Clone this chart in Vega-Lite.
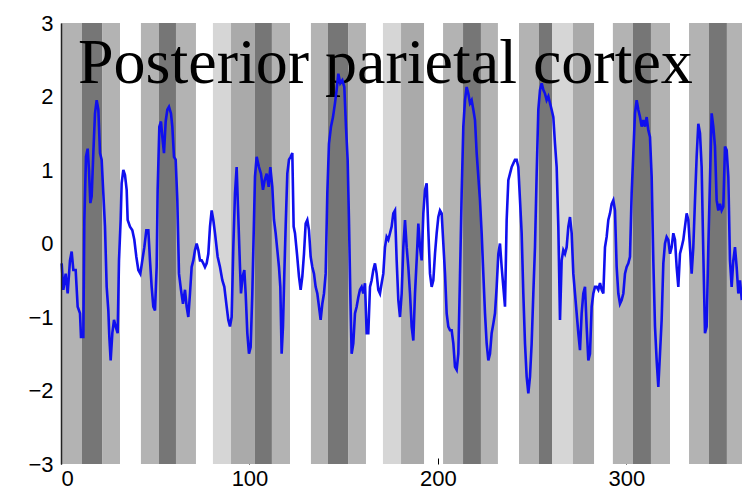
{
  "$schema": "https://vega.github.io/schema/vega-lite/v6.json",
  "autosize": {"type": "none"},
  "padding": {"left": 61, "top": 23, "right": 0, "bottom": 35},
  "width": 681,
  "height": 441,
  "background": "white",
  "config": {
    "view": {"stroke": null},
    "axis": {"labelFont": "Liberation Sans", "labelFontSize": 22, "labelColor": "#000", "grid": false, "title": null}
  },
  "datasets": {
    "bands": [
      {"start": 0, "end": 11.1, "shade": "b"}, {"start": 11.1, "end": 21.8, "shade": "d"}, {"start": 21.8, "end": 31.3, "shade": "b"},
      {"start": 42.4, "end": 52.0, "shade": "b"}, {"start": 52.0, "end": 61.0, "shade": "d"}, {"start": 61.0, "end": 71.6, "shade": "b"},
      {"start": 80.6, "end": 90.2, "shade": "a"}, {"start": 90.2, "end": 102.9, "shade": "c"}, {"start": 102.9, "end": 111.9, "shade": "d"}, {"start": 111.9, "end": 121.5, "shade": "b"},
      {"start": 132.6, "end": 141.6, "shade": "b"}, {"start": 141.6, "end": 152.3, "shade": "d"}, {"start": 152.3, "end": 161.8, "shade": "b"},
      {"start": 170.8, "end": 180.4, "shade": "a"}, {"start": 180.4, "end": 192.6, "shade": "c"},
      {"start": 202.7, "end": 213.3, "shade": "b"}, {"start": 213.3, "end": 222.8, "shade": "d"}, {"start": 222.8, "end": 231.8, "shade": "b"},
      {"start": 243.0, "end": 253.6, "shade": "b"}, {"start": 253.6, "end": 260.5, "shade": "d"}, {"start": 260.5, "end": 271.6, "shade": "a"}, {"start": 271.6, "end": 282.8, "shade": "c"},
      {"start": 292.8, "end": 303.4, "shade": "b"}, {"start": 303.4, "end": 313.0, "shade": "d"}, {"start": 313.0, "end": 323.1, "shade": "b"},
      {"start": 333.2, "end": 343.8, "shade": "b"}, {"start": 343.8, "end": 353.3, "shade": "d"}, {"start": 353.3, "end": 361.3, "shade": "b"}
    ],
    "label": [{"x": 9.0, "y": 2.18, "text": "Posterior parietal cortex"}],
    "signal": [
      {"x":0.35,"y":-0.27},{"x":1.24,"y":-0.63},{"x":2.48,"y":-0.41},{"x":3.54,"y":-0.68},{"x":4.77,"y":-0.23},{"x":5.66,"y":-0.11},{"x":6.54,"y":-0.36},{"x":7.78,"y":-0.36},{"x":8.84,"y":-0.86},{"x":10.08,"y":-0.95},{"x":10.61,"y":-1.27},{"x":11.85,"y":-1.27},{"x":12.38,"y":0.32},{"x":13.26,"y":1.18},{"x":14.15,"y":1.29},{"x":14.85,"y":1.0},{"x":15.56,"y":0.55},{"x":16.27,"y":0.64},{"x":17.15,"y":1.23},{"x":18.04,"y":1.77},{"x":18.92,"y":1.95},{"x":19.81,"y":1.82},{"x":20.69,"y":1.23},{"x":21.57,"y":1.14},{"x":22.46,"y":0.68},{"x":23.34,"y":0.23},{"x":24.23,"y":-0.59},{"x":25.11,"y":-0.91},{"x":25.64,"y":-1.27},{"x":26.35,"y":-1.59},{"x":27.23,"y":-1.22},{"x":28.12,"y":-1.04},{"x":29.0,"y":-1.13},{"x":30.06,"y":-1.22},{"x":30.77,"y":-0.23},{"x":31.65,"y":0.32},{"x":32.18,"y":0.82},{"x":33.07,"y":1.0},{"x":33.95,"y":0.93},{"x":34.84,"y":0.73},{"x":35.37,"y":0.32},{"x":36.6,"y":0.23},{"x":37.84,"y":0.18},{"x":38.9,"y":0.05},{"x":39.96,"y":-0.18},{"x":41.03,"y":-0.36},{"x":42.09,"y":-0.41},{"x":43.15,"y":-0.23},{"x":44.21,"y":-0.05},{"x":45.27,"y":0.18},{"x":46.33,"y":0.18},{"x":47.21,"y":-0.23},{"x":48.1,"y":-0.59},{"x":48.98,"y":-0.86},{"x":49.87,"y":-0.91},{"x":50.75,"y":-0.32},{"x":51.28,"y":0.73},{"x":52.17,"y":1.59},{"x":53.05,"y":1.66},{"x":53.76,"y":1.45},{"x":54.64,"y":1.23},{"x":55.53,"y":1.66},{"x":56.41,"y":1.82},{"x":57.29,"y":1.86},{"x":58.35,"y":1.77},{"x":59.06,"y":1.59},{"x":59.95,"y":1.18},{"x":60.83,"y":1.14},{"x":61.71,"y":0.59},{"x":62.6,"y":-0.41},{"x":63.66,"y":-0.63},{"x":64.72,"y":-0.82},{"x":65.78,"y":-0.63},{"x":66.67,"y":-0.86},{"x":67.55,"y":-1.0},{"x":68.43,"y":-0.68},{"x":69.32,"y":-0.32},{"x":70.2,"y":-0.23},{"x":71.09,"y":-0.09},{"x":71.97,"y":0.0},{"x":72.86,"y":-0.09},{"x":73.74,"y":-0.23},{"x":74.62,"y":-0.23},{"x":75.51,"y":-0.27},{"x":76.39,"y":-0.32},{"x":77.28,"y":-0.27},{"x":78.16,"y":-0.14},{"x":79.05,"y":0.23},{"x":79.93,"y":0.45},{"x":80.81,"y":0.32},{"x":81.7,"y":0.14},{"x":83.11,"y":-0.18},{"x":84.35,"y":-0.32},{"x":85.59,"y":-0.5},{"x":86.65,"y":-0.59},{"x":87.89,"y":-0.86},{"x":88.77,"y":-1.04},{"x":89.65,"y":-1.13},{"x":90.54,"y":-1.0},{"x":91.42,"y":-0.05},{"x":92.31,"y":0.68},{"x":93.19,"y":1.04},{"x":94.07,"y":0.36},{"x":94.96,"y":-0.32},{"x":95.49,"y":-0.68},{"x":96.37,"y":-0.45},{"x":97.26,"y":-0.36},{"x":97.97,"y":-0.68},{"x":98.85,"y":-1.22},{"x":99.73,"y":-1.5},{"x":100.62,"y":-1.41},{"x":101.5,"y":-0.68},{"x":102.39,"y":0.32},{"x":102.92,"y":0.91},{"x":103.8,"y":1.18},{"x":105.04,"y":1.04},{"x":106.1,"y":0.95},{"x":107.16,"y":0.73},{"x":108.05,"y":0.86},{"x":109.11,"y":0.95},{"x":110.17,"y":0.77},{"x":111.05,"y":1.04},{"x":112.11,"y":0.77},{"x":113.0,"y":0.32},{"x":113.88,"y":0.14},{"x":114.77,"y":-0.09},{"x":115.65,"y":-0.32},{"x":116.36,"y":-0.59},{"x":117.06,"y":-1.5},{"x":117.77,"y":-1.13},{"x":118.48,"y":-0.41},{"x":119.19,"y":0.23},{"x":120.07,"y":0.95},{"x":120.96,"y":1.14},{"x":121.84,"y":1.18},{"x":122.72,"y":1.23},{"x":123.43,"y":0.23},{"x":124.14,"y":0.14},{"x":125.2,"y":-0.14},{"x":126.26,"y":-0.45},{"x":127.15,"y":-0.63},{"x":128.03,"y":-0.45},{"x":128.91,"y":-0.14},{"x":129.8,"y":0.27},{"x":130.68,"y":0.32},{"x":131.57,"y":0.18},{"x":132.45,"y":-0.18},{"x":133.33,"y":-0.32},{"x":134.22,"y":-0.41},{"x":135.1,"y":-0.59},{"x":135.99,"y":-0.68},{"x":136.87,"y":-0.86},{"x":137.75,"y":-1.04},{"x":138.64,"y":-0.82},{"x":139.52,"y":-0.68},{"x":140.41,"y":-0.41},{"x":141.29,"y":0.68},{"x":142.17,"y":1.36},{"x":143.24,"y":1.59},{"x":144.3,"y":1.72},{"x":145.36,"y":1.91},{"x":146.24,"y":2.09},{"x":147.13,"y":2.31},{"x":148.19,"y":2.18},{"x":149.25,"y":2.22},{"x":150.31,"y":2.13},{"x":151.19,"y":1.59},{"x":152.08,"y":1.14},{"x":152.78,"y":0.32},{"x":153.49,"y":-0.68},{"x":154.2,"y":-1.5},{"x":155.08,"y":-1.36},{"x":155.97,"y":-0.95},{"x":156.85,"y":-0.86},{"x":157.74,"y":-0.73},{"x":158.62,"y":-0.63},{"x":159.5,"y":-0.59},{"x":160.39,"y":-0.68},{"x":161.27,"y":-0.54},{"x":162.16,"y":-1.22},{"x":163.04,"y":-1.22},{"x":163.93,"y":-0.59},{"x":164.81,"y":-0.5},{"x":165.69,"y":-0.36},{"x":166.58,"y":-0.27},{"x":167.46,"y":-0.41},{"x":168.35,"y":-0.63},{"x":169.23,"y":-0.68},{"x":170.11,"y":-0.54},{"x":171.0,"y":-0.41},{"x":171.88,"y":-0.05},{"x":172.77,"y":0.09},{"x":173.65,"y":0.05},{"x":174.54,"y":0.14},{"x":175.42,"y":0.23},{"x":176.3,"y":0.41},
      {"x":177.2,"y":0.45},{"x":178.08,"y":-0.23},{"x":178.97,"y":-0.77},{"x":179.85,"y":-1.0},{"x":180.74,"y":-0.68},{"x":181.62,"y":-0.05},{"x":182.51,"y":0.32},{"x":183.39,"y":-0.05},{"x":184.27,"y":-0.32},{"x":185.16,"y":-0.68},{"x":186.04,"y":-1.13},{"x":186.93,"y":-1.32},{"x":187.81,"y":-0.68},{"x":188.69,"y":-0.23},{"x":189.58,"y":0.27},{"x":190.46,"y":-0.05},{"x":191.35,"y":-0.23},{"x":192.23,"y":0.41},{"x":193.12,"y":0.73},{"x":194.0,"y":0.82},{"x":194.88,"y":0.18},{"x":195.77,"y":-0.41},{"x":196.65,"y":-0.59},{"x":197.54,"y":-0.5},{"x":198.42,"y":-0.14},{"x":199.31,"y":0.14},{"x":200.19,"y":0.36},{"x":201.07,"y":0.45},{"x":201.96,"y":0.41},{"x":202.84,"y":0.0},{"x":203.73,"y":-0.41},{"x":204.61,"y":-0.95},{"x":205.49,"y":-1.13},{"x":206.38,"y":-1.18},{"x":207.26,"y":-1.18},{"x":208.15,"y":-1.36},{"x":209.03,"y":-1.68},{"x":209.92,"y":-1.72},{"x":210.8,"y":-1.5},{"x":211.68,"y":-0.45},{"x":212.57,"y":0.68},{"x":213.45,"y":1.59},{"x":214.34,"y":1.95},{"x":215.22,"y":2.13},{"x":216.1,"y":2.04},{"x":216.99,"y":1.91},{"x":217.87,"y":1.95},{"x":218.76,"y":1.82},{"x":219.64,"y":1.68},{"x":220.53,"y":1.23},{"x":221.41,"y":0.91},{"x":222.29,"y":0.59},{"x":223.18,"y":0.14},{"x":224.06,"y":-0.41},{"x":224.95,"y":-0.95},{"x":225.83,"y":-1.36},{"x":226.72,"y":-1.59},{"x":227.6,"y":-1.5},{"x":228.48,"y":-1.22},{"x":229.37,"y":-1.09},{"x":230.25,"y":-0.95},{"x":231.14,"y":-0.59},{"x":232.02,"y":-0.14},{"x":232.9,"y":0.0},{"x":233.79,"y":-0.32},{"x":234.67,"y":-0.59},{"x":235.56,"y":-0.86},{"x":236.44,"y":0.32},{"x":237.33,"y":0.86},{"x":238.21,"y":0.95},{"x":239.09,"y":1.04},{"x":239.98,"y":1.09},{"x":240.86,"y":1.14},{"x":241.75,"y":1.14},{"x":242.63,"y":1.04},{"x":243.52,"y":0.59},{"x":244.4,"y":0.14},{"x":245.28,"y":-0.68},{"x":246.17,"y":-1.36},{"x":247.05,"y":-1.81},{"x":247.94,"y":-2.04},{"x":248.82,"y":-1.81},{"x":249.7,"y":-1.36},{"x":250.59,"y":-0.68},{"x":251.47,"y":-0.05},{"x":252.36,"y":0.95},{"x":253.24,"y":1.82},{"x":254.13,"y":2.09},{"x":255.01,"y":2.18},{"x":255.89,"y":2.09},{"x":256.78,"y":2.04},{"x":257.66,"y":1.95},{"x":258.55,"y":2.0},{"x":259.43,"y":1.91},{"x":260.31,"y":1.82},{"x":261.2,"y":1.72},{"x":262.08,"y":1.36},{"x":262.97,"y":1.04},{"x":263.85,"y":0.23},{"x":264.74,"y":-1.04},{"x":265.62,"y":-0.23},{"x":266.5,"y":-0.09},{"x":267.39,"y":-0.14},{"x":268.27,"y":-0.05},{"x":269.16,"y":0.23},{"x":270.04,"y":0.36},{"x":270.93,"y":0.14},{"x":271.81,"y":-0.41},{"x":272.69,"y":-0.68},{"x":273.58,"y":-0.95},{"x":274.46,"y":-1.22},{"x":275.35,"y":-1.45},{"x":276.23,"y":-0.95},{"x":277.11,"y":-0.68},{"x":278.0,"y":-0.59},{"x":278.88,"y":-1.13},{"x":279.77,"y":-1.59},{"x":280.65,"y":-1.5},{"x":281.54,"y":-0.86},{"x":282.42,"y":-0.68},{"x":283.3,"y":-0.59},{"x":284.19,"y":-0.59},{"x":285.07,"y":-0.63},{"x":285.96,"y":-0.54},{"x":286.84,"y":-0.63},{"x":287.73,"y":-0.68},{"x":288.61,"y":-0.05},{"x":289.49,"y":0.09},{"x":290.38,"y":0.32},{"x":291.26,"y":0.41},{"x":292.15,"y":0.54},{"x":293.03,"y":0.59},{"x":293.91,"y":0.45},{"x":294.8,"y":-0.32},{"x":295.68,"y":-0.68},{"x":296.57,"y":-0.82},{"x":297.45,"y":-0.77},{"x":298.34,"y":-0.68},{"x":299.22,"y":-0.41},{"x":300.1,"y":-0.32},{"x":300.99,"y":-0.27},{"x":301.87,"y":-0.18},{"x":302.76,"y":0.68},{"x":303.64,"y":1.23},{"x":304.52,"y":1.77},{"x":305.41,"y":1.95},{"x":306.29,"y":1.82},{"x":307.18,"y":1.72},{"x":308.06,"y":1.59},{"x":308.95,"y":1.68},{"x":309.83,"y":1.59},{"x":310.71,"y":1.72},{"x":311.6,"y":1.54},{"x":312.48,"y":1.45},{"x":313.37,"y":0.91},{"x":314.25,"y":-0.23},{"x":315.14,"y":-1.13},{"x":316.02,"y":-1.59},{"x":316.9,"y":-1.95},{"x":317.79,"y":-1.5},{"x":318.67,"y":-1.04},{"x":319.56,"y":-0.27},{"x":320.44,"y":0.0},{"x":321.32,"y":0.09},{"x":322.21,"y":0.05},{"x":323.09,"y":-0.14},{"x":323.98,"y":-0.05},{"x":324.86,"y":0.14},{"x":325.75,"y":0.05},{"x":326.63,"y":-0.32},{"x":327.51,"y":-0.59},{"x":328.4,"y":-0.14},{"x":329.28,"y":-0.05},{"x":330.17,"y":0.05},{"x":331.05,"y":0.23},{"x":331.94,"y":0.41},{"x":332.82,"y":0.32},{"x":333.7,"y":-0.05},{"x":334.59,"y":-0.41},{"x":335.47,"y":-0.05},{"x":336.36,"y":0.59},{"x":337.24,"y":1.18},{"x":338.12,"y":1.63},{"x":339.01,"y":1.5},{"x":339.89,"y":1.04},{"x":340.78,"y":-0.14},{"x":341.66,"y":-1.22},{"x":342.55,"y":-1.13},{"x":343.43,"y":-0.05},{"x":344.31,"y":0.86},{"x":345.2,"y":1.77},{"x":346.08,"y":1.59},{"x":346.97,"y":1.32},{"x":347.85,"y":0.59},{"x":348.73,"y":0.45},{"x":349.62,"y":0.54},{"x":350.5,"y":0.45},{"x":351.39,"y":0.5},{"x":352.27,"y":1.32},{"x":353.16,"y":1.27},{"x":354.04,"y":0.91},{"x":354.92,"y":-0.23},{"x":355.81,"y":-0.59},{"x":356.69,"y":-0.23},{"x":357.58,"y":-0.05},{"x":358.46,"y":-0.32},{"x":359.35,"y":-0.68},{"x":360.23,"y":-0.5},{"x":361.2,"y":-0.77}
    ]
  },
  "layer": [
    {
      "data": {"name": "bands"},
      "mark": {"type": "rect"},
      "encoding": {
        "x": {"field": "start", "type": "quantitative", "scale": {"domain": [0, 361.3], "nice": false, "zero": false},
              "axis": {"values": [0, 100, 200, 300], "format": "d", "domain": false, "ticks": true, "tickSize": -6, "tickColor": "#000", "labelPadding": 10, "zindex": 0}},
        "x2": {"field": "end"},
        "y": {"datum": 3, "type": "quantitative", "scale": {"domain": [-3, 3], "nice": false, "zero": false},
              "axis": {"values": [-3, -2, -1, 0, 1, 2, 3], "format": "d", "domain": true, "domainColor": "#222", "domainWidth": 1.5, "ticks": false, "labelPadding": 8, "zindex": 1}},
        "y2": {"datum": -3},
        "color": {"field": "shade", "type": "nominal", "legend": null,
                  "scale": {"domain": ["a", "b", "c", "d"], "range": ["#d6d6d6", "#b3b3b3", "#aaaaaa", "#767676"]}}
      }
    },
    {
      "data": {"name": "label"},
      "mark": {"type": "text", "align": "left", "baseline": "alphabetic", "font": "Liberation Serif", "fontSize": 64, "color": "#000"},
      "encoding": {
        "x": {"field": "x", "type": "quantitative"},
        "y": {"field": "y", "type": "quantitative"},
        "text": {"field": "text"}
      }
    },
    {
      "data": {"name": "signal"},
      "mark": {"type": "line", "color": "#1010ee", "strokeWidth": 2.6},
      "encoding": {
        "x": {"field": "x", "type": "quantitative"},
        "y": {"field": "y", "type": "quantitative"}
      }
    }
  ]
}
